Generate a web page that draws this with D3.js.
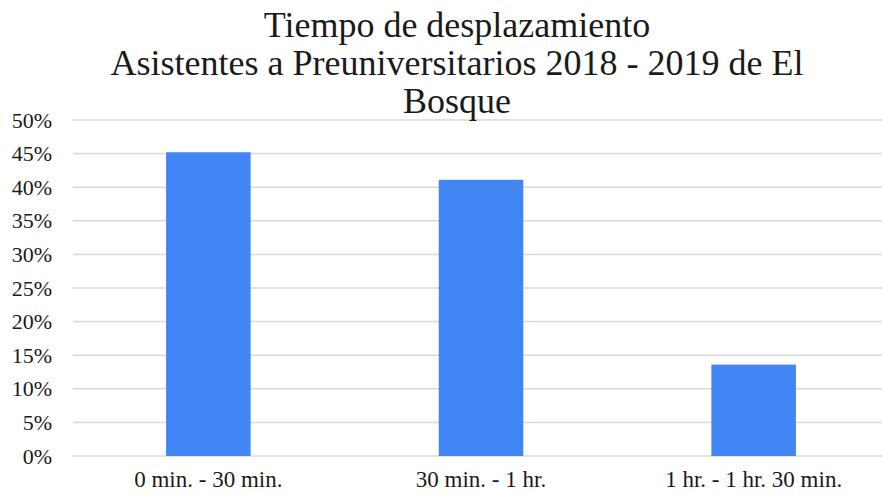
<!DOCTYPE html>
<html>
<head>
<meta charset="utf-8">
<script src="https://cdn.jsdelivr.net/npm/d3@7"></script>
<style>
  body { margin: 0; background: #fff; }
  text { font-family: "Liberation Serif", "Times New Roman", serif; fill: #1a1a1a; }
</style>
</head>
<body>
<div id="chart"></div>
<script>
const categories = ['0 min. - 30 min.', '30 min. - 1 hr.', '1 hr. - 1 hr. 30 min.'];
const values = [0.452, 0.411, 0.136];
const yTicks = [0, 0.05, 0.10, 0.15, 0.20, 0.25, 0.30, 0.35, 0.40, 0.45, 0.50];
const titleLines = ['Tiempo de desplazamiento', 'Asistentes a Preuniversitarios 2018 - 2019 de El', 'Bosque'];

const width = 882, height = 495;
const margin = { top: 120, bottom: 39, left: 72, right: -8 };

const svg = d3.select('#chart').append('svg')
  .attr('width', width)
  .attr('height', height);

const xScale = d3.scaleBand().domain(categories).range([margin.left, width - margin.right]).paddingInner(0.69).paddingOuter(0.345);
const yScale = d3.scaleLinear().domain([0, 0.5]).range([height - margin.bottom, margin.top]);

// gridlines
svg.append('g')
  .selectAll('line')
  .data(yTicks)
  .enter()
  .append('line')
  .attr('x1', margin.left + 1)
  .attr('x2', width)
  .attr('y1', d => yScale(d))
  .attr('y2', d => yScale(d))
  .style('stroke', '#d9d9d9')
  .style('stroke-width', 1.5);

// bars
svg.append('g')
  .selectAll('rect')
  .data(values)
  .enter()
  .append('rect')
  .attr('x', (d, i) => xScale(categories[i]))
  .attr('width', xScale.bandwidth())
  .attr('y', d => yScale(d))
  .attr('height', d => yScale(0) - yScale(d))
  .style('fill', '#4285f4');

// y axis labels
const yAxis = svg.append('g')
  .attr('transform', `translate(${margin.left - 20},0)`)
  .call(d3.axisLeft(yScale).tickValues(yTicks).tickFormat(d3.format('.0%')).tickSize(0).tickPadding(0));
yAxis.select('.domain').remove();
yAxis.selectAll('text')
  .style('font-family', '"Liberation Serif", serif')
  .style('font-size', '22px')
  .style('fill', '#1a1a1a');

// x axis labels
const xAxis = svg.append('g')
  .attr('transform', `translate(0,${yScale(0) + 15})`)
  .call(d3.axisBottom(xScale).tickSize(0).tickPadding(0));
xAxis.select('.domain').remove();
xAxis.selectAll('text')
  .style('font-family', '"Liberation Serif", serif')
  .style('font-size', '23px')
  .style('fill', '#1a1a1a');

// title
svg.append('text')
  .attr('text-anchor', 'middle')
  .style('font-size', '36px')
  .selectAll('tspan')
  .data(titleLines)
  .enter()
  .append('tspan')
  .attr('x', 457)
  .attr('y', (d, i) => 37 + i * 38)
  .text(d => d);
</script>
</body>
</html>
